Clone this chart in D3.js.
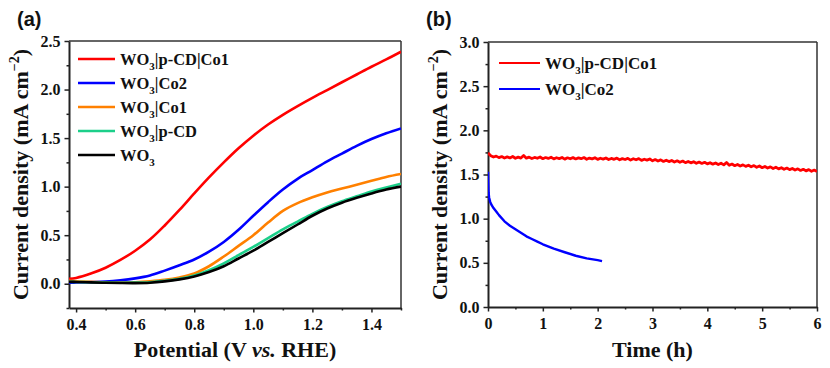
<!DOCTYPE html>
<html><head><meta charset="utf-8">
<script src="https://cdn.jsdelivr.net/npm/d3@7"></script>
<style>
body{margin:0;background:#fff;}
svg{display:block;}
.axtitle{font-family:"Liberation Serif","Times New Roman",serif;font-weight:bold;font-size:22px;fill:#111;}
.leg{font-family:"Liberation Serif","Times New Roman",serif;font-weight:bold;fill:#111;}
.plabel{font-family:"Liberation Sans",Arial,sans-serif;font-weight:bold;font-size:20px;fill:#111;}
</style></head>
<body><svg id="c" width="830" height="368"></svg>
<script>
// ---------- Panel (a): LSV ----------
const lsvPotential = [0.376,0.40,0.45,0.50,0.55,0.60,0.65,0.70,0.75,0.80,0.85,0.90,0.95,1.00,1.05,1.10,1.15,1.20,1.25,1.30,1.35,1.40,1.45,1.50];
const lsvRed    = [0.05,0.06,0.105,0.165,0.245,0.34,0.455,0.60,0.76,0.93,1.095,1.25,1.395,1.525,1.64,1.74,1.83,1.915,1.995,2.075,2.155,2.235,2.31,2.39];
const lsvBlue   = [0.01,0.012,0.016,0.022,0.035,0.055,0.085,0.135,0.19,0.25,0.33,0.43,0.555,0.70,0.84,0.97,1.08,1.17,1.26,1.34,1.42,1.49,1.55,1.60];
const lsvOrange = [0.03,0.025,0.02,0.014,0.012,0.015,0.025,0.04,0.065,0.105,0.18,0.28,0.39,0.50,0.63,0.75,0.83,0.89,0.94,0.98,1.02,1.06,1.10,1.13];
const lsvGreen  = [0.02,0.018,0.015,0.012,0.01,0.011,0.016,0.03,0.05,0.085,0.14,0.21,0.295,0.38,0.47,0.56,0.64,0.72,0.79,0.85,0.90,0.95,0.99,1.03];
const lsvBlack  = [0.02,0.018,0.014,0.01,0.007,0.006,0.01,0.024,0.045,0.075,0.12,0.18,0.26,0.34,0.43,0.52,0.61,0.70,0.775,0.835,0.885,0.93,0.97,1.00];
const lsvNames  = ["WO3|p-CD|Co1","WO3|Co2","WO3|Co1","WO3|p-CD","WO3"];
const lsvColors = ["#ff0000","#0000ff","#ff8000","#1ccf8a","#000000"];
const lsvXTicks = [0.4,0.6,0.8,1.0,1.2,1.4];
const lsvYTicks = [0.0,0.5,1.0,1.5,2.0,2.5];

// ---------- Panel (b): stability ----------
const stabTimeRed = [0,0.05,0.10,0.15,0.20,0.25,0.30,0.35,0.40,0.45,0.50,0.55,0.60,0.65,0.70,0.75,0.80,0.85,0.90,0.95,
1.00,1.05,1.10,1.15,1.20,1.25,1.30,1.35,1.40,1.45,1.50,1.55,1.60,1.65,1.70,1.75,1.80,1.85,1.90,1.95,
2.00,2.05,2.10,2.15,2.20,2.25,2.30,2.35,2.40,2.45,2.50,2.55,2.60,2.65,2.70,2.75,2.80,2.85,2.90,2.95,
3.00,3.05,3.10,3.15,3.20,3.25,3.30,3.35,3.40,3.45,3.50,3.55,3.60,3.65,3.70,3.75,3.80,3.85,3.90,3.95,
4.00,4.05,4.10,4.15,4.20,4.25,4.30,4.35,4.40,4.45,4.50,4.55,4.60,4.65,4.70,4.75,4.80,4.85,4.90,4.95,
5.00,5.05,5.10,5.15,5.20,5.25,5.30,5.35,5.40,5.45,5.50,5.55,5.60,5.65,5.70,5.75,5.80,5.85,5.90,5.95,6.00];
const stabRed = [1.745,1.712,1.698,1.708,1.691,1.703,1.687,1.699,1.688,1.704,1.684,1.697,1.686,1.716,1.685,1.696,1.681,1.693,1.684,1.698,
1.679,1.692,1.682,1.695,1.677,1.690,1.680,1.693,1.674,1.689,1.678,1.691,1.676,1.688,1.679,1.692,1.673,1.686,1.677,1.690,
1.671,1.684,1.674,1.687,1.669,1.682,1.672,1.685,1.667,1.680,1.670,1.683,1.663,1.678,1.667,1.680,1.660,1.673,1.663,1.676,
1.655,1.669,1.653,1.666,1.648,1.662,1.646,1.659,1.641,1.655,1.639,1.652,1.634,1.648,1.632,1.645,1.627,1.641,1.625,1.638,
1.620,1.634,1.617,1.630,1.613,1.627,1.609,1.636,1.604,1.618,1.600,1.613,1.596,1.609,1.592,1.605,1.587,1.601,1.582,1.596,
1.577,1.591,1.573,1.586,1.568,1.582,1.564,1.577,1.559,1.573,1.555,1.568,1.550,1.564,1.546,1.559,1.541,1.555,1.537,1.550,1.533];
const stabTimeBlue = [0,0.005,0.01,0.02,0.04,0.07,0.10,0.15,0.20,0.30,0.40,0.50,0.60,0.70,0.80,0.90,1.00,1.20,1.40,1.60,1.80,2.00,2.08];
const stabBlue     = [1.53,1.40,1.30,1.24,1.19,1.15,1.12,1.08,1.04,0.97,0.92,0.88,0.84,0.80,0.77,0.74,0.71,0.66,0.62,0.58,0.55,0.53,0.52];
const stabNames  = ["WO3|p-CD|Co1","WO3|Co2"];
const stabColors = ["#ff0000","#0000ff"];
const stabXTicks = [0,1,2,3,4,5,6];
const stabYTicks = [0.0,0.5,1.0,1.5,2.0,2.5,3.0];

const svg = d3.select("#c");

function legendText(sel, name){
  const parts = name.split("WO3");
  sel.append("tspan").text("WO");
  sel.append("tspan").text("3").attr("font-size","11px").attr("dy",5);
  sel.append("tspan").text(parts[1]).attr("dy",-5);
}

function panel(o){
  const g = svg.append("g");
  const x = d3.scaleLinear().domain(o.xd).range([o.l,o.r]);
  const y = d3.scaleLinear().domain(o.yd).range([o.b,o.t]);
  g.append("line").attr("x1",o.l).attr("x2",o.r).attr("y1",o.t).attr("y2",o.t).attr("stroke","#333").attr("stroke-width",1.5);
  g.append("line").attr("x1",o.r).attr("x2",o.r).attr("y1",o.t).attr("y2",o.b).attr("stroke","#333").attr("stroke-width",1.5);
  g.append("g").attr("transform",`translate(0,${o.b})`)
    .call(d3.axisBottom(x).tickValues(o.xMinor).tickSize(2.5).tickFormat(""))
    .call(s=>{s.select(".domain").remove(); s.selectAll("line").attr("stroke","#222").attr("stroke-width",1.5);});
  g.append("g").attr("transform",`translate(${o.l},0)`)
    .call(d3.axisLeft(y).tickValues(o.yMinor).tickSize(2.5).tickFormat(""))
    .call(s=>{s.select(".domain").remove(); s.selectAll("line").attr("stroke","#222").attr("stroke-width",1.5);});
  const xa = g.append("g").attr("transform",`translate(0,${o.b})`)
    .call(d3.axisBottom(x).tickValues(o.xTicks).tickSize(4.5).tickSizeOuter(0).tickPadding(6).tickFormat(o.xFmt));
  const ya = g.append("g").attr("transform",`translate(${o.l},0)`)
    .call(d3.axisLeft(y).tickValues(o.yTicks).tickSize(4.5).tickSizeOuter(0).tickPadding(4).tickFormat(d3.format(".1f")));
  [xa,ya].forEach(a=>{
    a.select(".domain").attr("stroke","#222").attr("stroke-width",2);
    a.selectAll(".tick line").attr("stroke","#222").attr("stroke-width",1.5);
    a.selectAll(".tick text").style("font-family","'Liberation Serif',serif").style("font-weight","bold").style("font-size","16px").attr("fill","#111");
  });
  const cid = "clip"+o.id;
  g.append("clipPath").attr("id",cid).append("rect").attr("x",o.l).attr("y",o.t).attr("width",o.r-o.l).attr("height",o.b-o.t);
  const line = d3.line().x(d=>x(d[0])).y(d=>y(d[1])).curve(o.curve);
  o.series.forEach((s,i)=>{
    g.append("path").attr("clip-path",`url(#${cid})`).attr("d",line(s.xs.map((v,j)=>[v,s.ys[j]])))
      .attr("fill","none").attr("stroke",s.color).attr("stroke-width",s.sw||o.sw).attr("stroke-linejoin","round");
  });
  g.append("text").attr("class","axtitle").attr("x",(o.l+o.r)/2).attr("y",357).attr("text-anchor","middle").call(o.xTitle);
  const yt = g.append("text").attr("class","axtitle").attr("transform",`translate(${o.ytx},${(o.t+o.b)/2}) rotate(-90)`).attr("text-anchor","middle");
  yt.append("tspan").text("Current density (mA cm");
  yt.append("tspan").text("\u22122").attr("font-size","14px").attr("dy",-9);
  yt.append("tspan").text(")").attr("dy",9);
  o.series.forEach((s,i)=>{
    const ly = o.legY + i*o.legDy;
    g.append("line").attr("x1",o.legX).attr("x2",o.legX+o.legLen).attr("y1",ly).attr("y2",ly).attr("stroke",s.color).attr("stroke-width",o.legSw);
    const t = g.append("text").attr("class","leg").attr("font-size",o.legFs).attr("x",o.legX+o.legLen+5).attr("y",ly+6);
    legendText(t, s.name);
  });
  g.append("text").attr("class","plabel").attr("x",o.lab[0]).attr("y",o.lab[1]).text(o.label);
}

const lsvY = [lsvRed,lsvBlue,lsvOrange,lsvGreen,lsvBlack];
panel({
  id:"a", l:69, r:401, t:41, b:308, xd:[0.376,1.5], yd:[-0.25,2.5],
  xTicks:lsvXTicks, yTicks:lsvYTicks, xFmt:d3.format(".1f"),
  xMinor:[0.5,0.7,0.9,1.1,1.3,1.5], yMinor:[-0.25,0.25,0.75,1.25,1.75,2.25],
  curve:d3.curveCatmullRom.alpha(0.5), sw:2.6,
  series:[4,3,2,1,0].map(i=>({name:lsvNames[i],color:lsvColors[i],xs:lsvPotential,ys:lsvY[i]})).reverse(),
  xTitle:t=>{t.append("tspan").text("Potential (V "); t.append("tspan").text("vs.").attr("font-style","italic"); t.append("tspan").text(" RHE)");},
  ytx:28, legX:78, legLen:37, legY:59, legDy:24, legSw:2.6, legFs:"16.5px",
  label:"(a)", lab:[17,26]
});
panel({
  id:"b", l:488, r:817, t:42, b:307, xd:[0,6], yd:[0,3],
  xTicks:stabXTicks, yTicks:stabYTicks, xFmt:d3.format("d"),
  xMinor:[0.5,1.5,2.5,3.5,4.5,5.5], yMinor:[0.25,0.75,1.25,1.75,2.25,2.75],
  curve:d3.curveLinear, sw:2.4,
  series:[{name:stabNames[0],color:stabColors[0],xs:stabTimeRed,ys:stabRed,sw:2.8},{name:stabNames[1],color:stabColors[1],xs:stabTimeBlue,ys:stabBlue,sw:2.4}],
  xTitle:t=>{t.text("Time (h)");},
  ytx:447, legX:499, legLen:41, legY:63, legDy:26, legSw:2, legFs:"17px",
  label:"(b)", lab:[426,26]
});
</script></body></html>
